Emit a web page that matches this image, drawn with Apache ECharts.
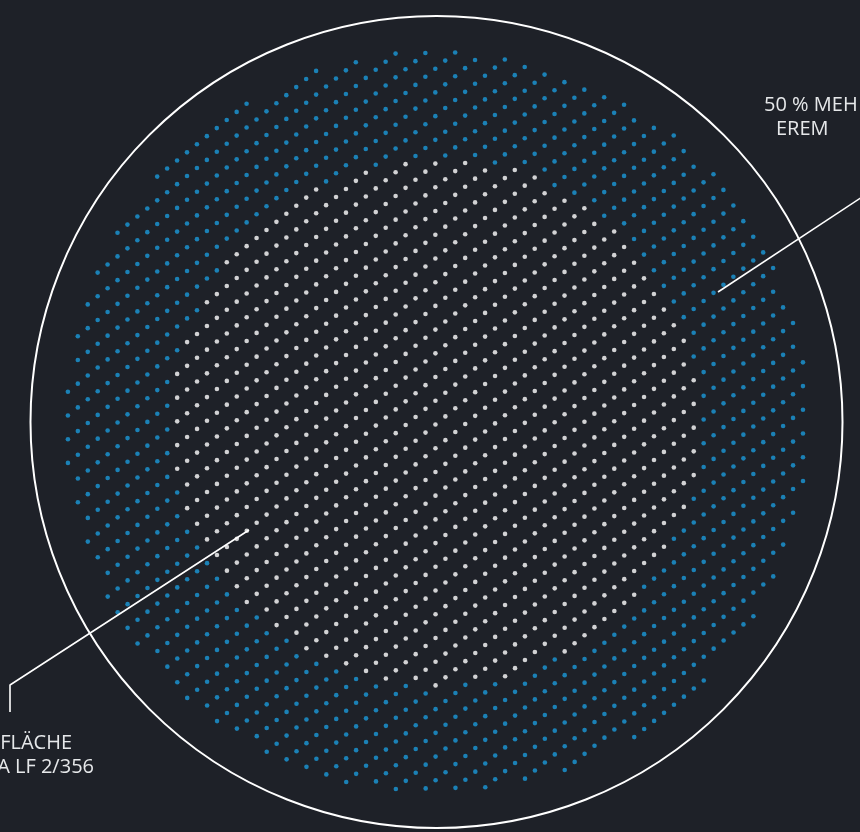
<!DOCTYPE html>
<html><head><meta charset="utf-8">
<script src="https://cdn.jsdelivr.net/npm/echarts@6/dist/echarts.min.js"></script>
<style>html,body{margin:0;padding:0;background:#1e2128;overflow:hidden}#c{width:860px;height:832px}</style>
</head><body><div id="c"></div>
<script>
// ---- data ----
const categories = ['Fläche', '50 % mehr Fläche'];
const areaValues = [1, 1.99];            // relative areas: inner (white) and total (blue) dot field
const innerRadius = [264];               // radius of the inner area in chart units
const outlineRadius = [406];             // surrounding ring
const centre = [436.5, 422];             // centre of the circles in chart units
const latticeOrigin = [395.7, 385.7];
const latticeA = [29.8, -0.55];
const latticeB = [-9.93, 8.09];
const labelTopRight = ['50 % MEH', 'EREM'];
const labelBottomLeft = ['FLÄCHE', 'A LF 2/356'];
const leaderTopRight = [[718, 292], [900, 172]];
const leaderBottomLeft = [[249, 530], [10, 685], [10, 712]];

// ---- build dot fields ----
const rIn = innerRadius[0];
const rOut = rIn * Math.sqrt(areaValues[1] / areaValues[0]);
const whiteDots = [], blueDots = [];
for (let n = -30; n <= 30; n++) {
  for (let m = -70; m <= 70; m++) {
    const x = latticeOrigin[0] + n * latticeA[0] + m * latticeB[0];
    const y = latticeOrigin[1] + n * latticeA[1] + m * latticeB[1];
    const d = Math.hypot(x - centre[0], y - centre[1]);
    if (d <= rIn) whiteDots.push([x, y]);
    else if (d <= rOut) blueDots.push([x, y]);
  }
}

const chart = echarts.init(document.getElementById('c'), null, {renderer: 'canvas'});
const textStyle = {fill: '#e6e8ea', fontSize: 20, fontFamily: '"Open Sans", sans-serif', verticalAlign: 'middle'};
chart.setOption({
  backgroundColor: '#1e2128',
  animation: false,
  grid: {left: 0, right: 0, top: 0, bottom: 0},
  xAxis: {type: 'value', min: 0, max: 860, show: false},
  yAxis: {type: 'value', min: 0, max: 832, inverse: true, show: false},
  series: [
    {
      type: 'custom', name: 'ring', silent: true,
      data: [[centre[0], centre[1], outlineRadius[0]]],
      renderItem: (params, api) => {
        const c = api.coord([api.value(0), api.value(1)]);
        const r = api.size([api.value(2), 0])[0];
        return {type: 'circle', shape: {cx: c[0], cy: c[1], r: r},
          style: {fill: 'none', stroke: '#ffffff', lineWidth: 2}};
      }
    },
    {type: 'scatter', name: categories[1], data: blueDots, symbolSize: 4.6,
      itemStyle: {color: '#1a9ad9'}, silent: true},
    {type: 'scatter', name: categories[0], data: whiteDots, symbolSize: 4.6,
      itemStyle: {color: '#ffffff'}, silent: true},
    {type: 'line', data: leaderTopRight, symbol: 'none', silent: true,
      lineStyle: {color: '#ffffff', width: 1.6}},
    {type: 'line', data: leaderBottomLeft, symbol: 'none', silent: true,
      lineStyle: {color: '#ffffff', width: 1.6}}
  ],
  graphic: [
    {type: 'text', x: 764, y: 105, style: Object.assign({text: labelTopRight[0], align: 'left'}, textStyle)},
    {type: 'text', x: 776, y: 129, style: Object.assign({text: labelTopRight[1], align: 'left'}, textStyle)},
    {type: 'text', x: 72, y: 743, style: Object.assign({text: labelBottomLeft[0], align: 'right'}, textStyle)},
    {type: 'text', x: 94, y: 767, style: Object.assign({text: labelBottomLeft[1], align: 'right'}, textStyle)}
  ]
});
</script></body></html>
